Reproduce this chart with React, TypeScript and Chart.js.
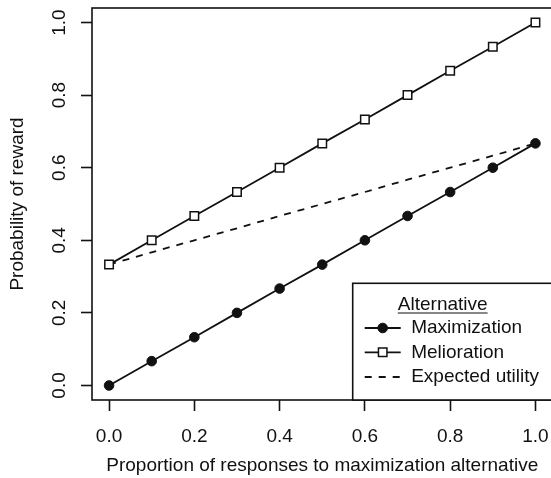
import React, { useEffect, useRef } from "react";
import { Chart, registerables } from "chart.js";

Chart.register(...registerables);

const proportion = [0, 0.1, 0.2, 0.3, 0.4, 0.5, 0.6, 0.7, 0.8, 0.9, 1.0];
const maximization = [0, 0.067, 0.133, 0.2, 0.267, 0.333, 0.4, 0.467, 0.533, 0.6, 0.667];
const melioration = [0.333, 0.4, 0.467, 0.533, 0.6, 0.667, 0.733, 0.8, 0.867, 0.933, 1.0];
const expectedUtility = [0.333, 0.367, 0.4, 0.433, 0.467, 0.5, 0.533, 0.567, 0.6, 0.633, 0.667];
const tickValues = [0, 0.2, 0.4, 0.6, 0.8, 1.0];
const seriesLabels = ["Maximization", "Melioration", "Expected utility"];
const legendTitle = "Alternative";
const xTitle = "Proportion of responses to maximization alternative";
const yTitle = "Probability of reward";

const FONT = "'Liberation Sans', Arial, Helvetica, sans-serif";
const FS = 19;
const INK = "#111";

const toPoints = (ys: number[]) => proportion.map((x, i) => ({ x, y: ys[i] }));

const boxPlugin = {
  id: "rbox",
  afterDatasetsDraw(chart: any) {
    const { ctx, chartArea } = chart;
    const { left, top, right, bottom } = chartArea;
    ctx.save();
    ctx.strokeStyle = INK;
    ctx.lineWidth = 1.6;
    ctx.strokeRect(left, top, right - left, bottom - top);

    // legend, bottom-right
    const lw = 199.8;
    const lh = 116.7;
    const lx = right - lw;
    const ly = bottom - lh;
    ctx.fillStyle = "#fff";
    ctx.fillRect(lx, ly, lw, lh);
    ctx.strokeRect(lx, ly, lw, lh);

    ctx.font = `${FS}px ${FONT}`;
    ctx.fillStyle = INK;
    ctx.textBaseline = "middle";
    ctx.textAlign = "center";
    const tcx = lx + 90;
    const tcy = ly + 21.7;
    ctx.fillText(legendTitle, tcx, tcy);
    const tw = ctx.measureText(legendTitle).width;
    ctx.lineWidth = 1.2;
    ctx.beginPath();
    ctx.moveTo(tcx - tw / 2, tcy + 8);
    ctx.lineTo(tcx + tw / 2, tcy + 8);
    ctx.stroke();

    const rows = [44.7, 69, 93.7];
    chart.data.datasets.forEach((ds: any, i: number) => {
      const ry = ly + rows[i];
      ctx.save();
      ctx.strokeStyle = ds.borderColor;
      ctx.lineWidth = ds.borderWidth;
      ctx.setLineDash(ds.borderDash || []);
      ctx.beginPath();
      ctx.moveTo(lx + 12, ry);
      ctx.lineTo(lx + 48, ry);
      ctx.stroke();
      ctx.restore();
      if (ds.pointRadius > 0) {
        ctx.save();
        ctx.fillStyle = ds.pointBackgroundColor;
        ctx.strokeStyle = ds.pointBorderColor;
        ctx.lineWidth = ds.pointBorderWidth;
        ctx.beginPath();
        if (ds.pointStyle === "rect") {
          const s = Math.SQRT1_2 * ds.pointRadius;
          ctx.rect(lx + 30 - s, ry - s, 2 * s, 2 * s);
        } else {
          ctx.arc(lx + 30, ry, ds.pointRadius, 0, Math.PI * 2);
        }
        ctx.fill();
        ctx.stroke();
        ctx.restore();
      }
      ctx.fillStyle = INK;
      ctx.textAlign = "left";
      ctx.fillText(ds.label, lx + 58.5, ry);
    });
    ctx.restore();
  },
};

export default function App() {
  const ref = useRef<HTMLCanvasElement>(null);
  useEffect(() => {
    document.body.style.margin = "0";
    document.body.style.overflow = "hidden";
    const setTicks = (scale: any) => {
      scale.ticks = tickValues.map((v) => ({ value: v }));
    };
    const zeroPad = (s: any) => {
      s.paddingTop = 0;
      s.paddingBottom = 0;
      s.paddingLeft = 0;
      s.paddingRight = 0;
    };
    const chart = new Chart(ref.current!, {
      type: "scatter",
      data: {
        datasets: [
          {
            label: seriesLabels[0],
            data: toPoints(maximization),
            showLine: true,
            borderColor: INK,
            borderWidth: 1.8,
            pointStyle: "circle",
            pointRadius: 4.8,
            pointBackgroundColor: INK,
            pointBorderColor: INK,
            pointBorderWidth: 1,
          },
          {
            label: seriesLabels[1],
            data: toPoints(melioration),
            showLine: true,
            borderColor: INK,
            borderWidth: 1.8,
            pointStyle: "rect",
            pointRadius: 6,
            pointBackgroundColor: "#fff",
            pointBorderColor: INK,
            pointBorderWidth: 1.5,
          },
          {
            label: seriesLabels[2],
            data: toPoints(expectedUtility),
            showLine: true,
            borderColor: INK,
            borderWidth: 1.8,
            borderDash: [7, 7],
            pointRadius: 0,
            pointBackgroundColor: INK,
            pointBorderColor: INK,
            pointBorderWidth: 0,
          },
        ] as any,
      },
      options: {
        animation: false,
        responsive: false,
        devicePixelRatio: 1,
        layout: { padding: { left: 0, top: 8, right: 6.2, bottom: 0 } },
        plugins: { legend: { display: false }, tooltip: { enabled: false } },
        elements: { line: { tension: 0 } },
        scales: {
          x: {
            type: "linear",
            min: -0.04,
            max: 1.04,
            afterBuildTicks: setTicks,
            afterFit: (s: any) => {
              s.height = 78;
              zeroPad(s);
            },
            border: { display: false },
            grid: {
              display: true,
              drawOnChartArea: false,
              drawTicks: true,
              tickLength: 11,
              tickWidth: 1.6,
              tickColor: INK,
            },
            ticks: {
              autoSkip: false,
              maxRotation: 0,
              minRotation: 0,
              padding: 14,
              color: INK,
              font: { family: FONT, size: FS },
              callback: (v: any) => Number(v).toFixed(1),
            },
            title: {
              display: true,
              text: xTitle,
              color: INK,
              font: { family: FONT, size: FS },
              padding: { top: 0, bottom: 0.4 },
            },
          },
          y: {
            type: "linear",
            min: -0.04,
            max: 1.04,
            afterBuildTicks: setTicks,
            afterFit: (s: any) => {
              s.width = 92;
              zeroPad(s);
            },
            border: { display: false },
            grid: {
              display: true,
              drawOnChartArea: false,
              drawTicks: true,
              tickLength: 11,
              tickWidth: 1.6,
              tickColor: INK,
            },
            ticks: {
              autoSkip: false,
              minRotation: 90,
              maxRotation: 90,
              crossAlign: "center",
              padding: 8,
              color: INK,
              font: { family: FONT, size: FS },
              callback: (v: any) => Number(v).toFixed(1),
            },
            title: {
              display: true,
              text: yTitle,
              color: INK,
              font: { family: FONT, size: FS },
              padding: { top: 6, bottom: 0 },
            },
          },
        },
      },
      plugins: [boxPlugin],
    });
    return () => chart.destroy();
  }, []);
  return (
    <div
      style={{
        position: "fixed",
        left: 0,
        top: 0,
        width: 551,
        height: 478,
        overflow: "hidden",
        background: "#fff",
      }}
    >
      <canvas ref={ref} width={560} height={478} style={{ width: 560, height: 478, display: "block" }} />
    </div>
  );
}
